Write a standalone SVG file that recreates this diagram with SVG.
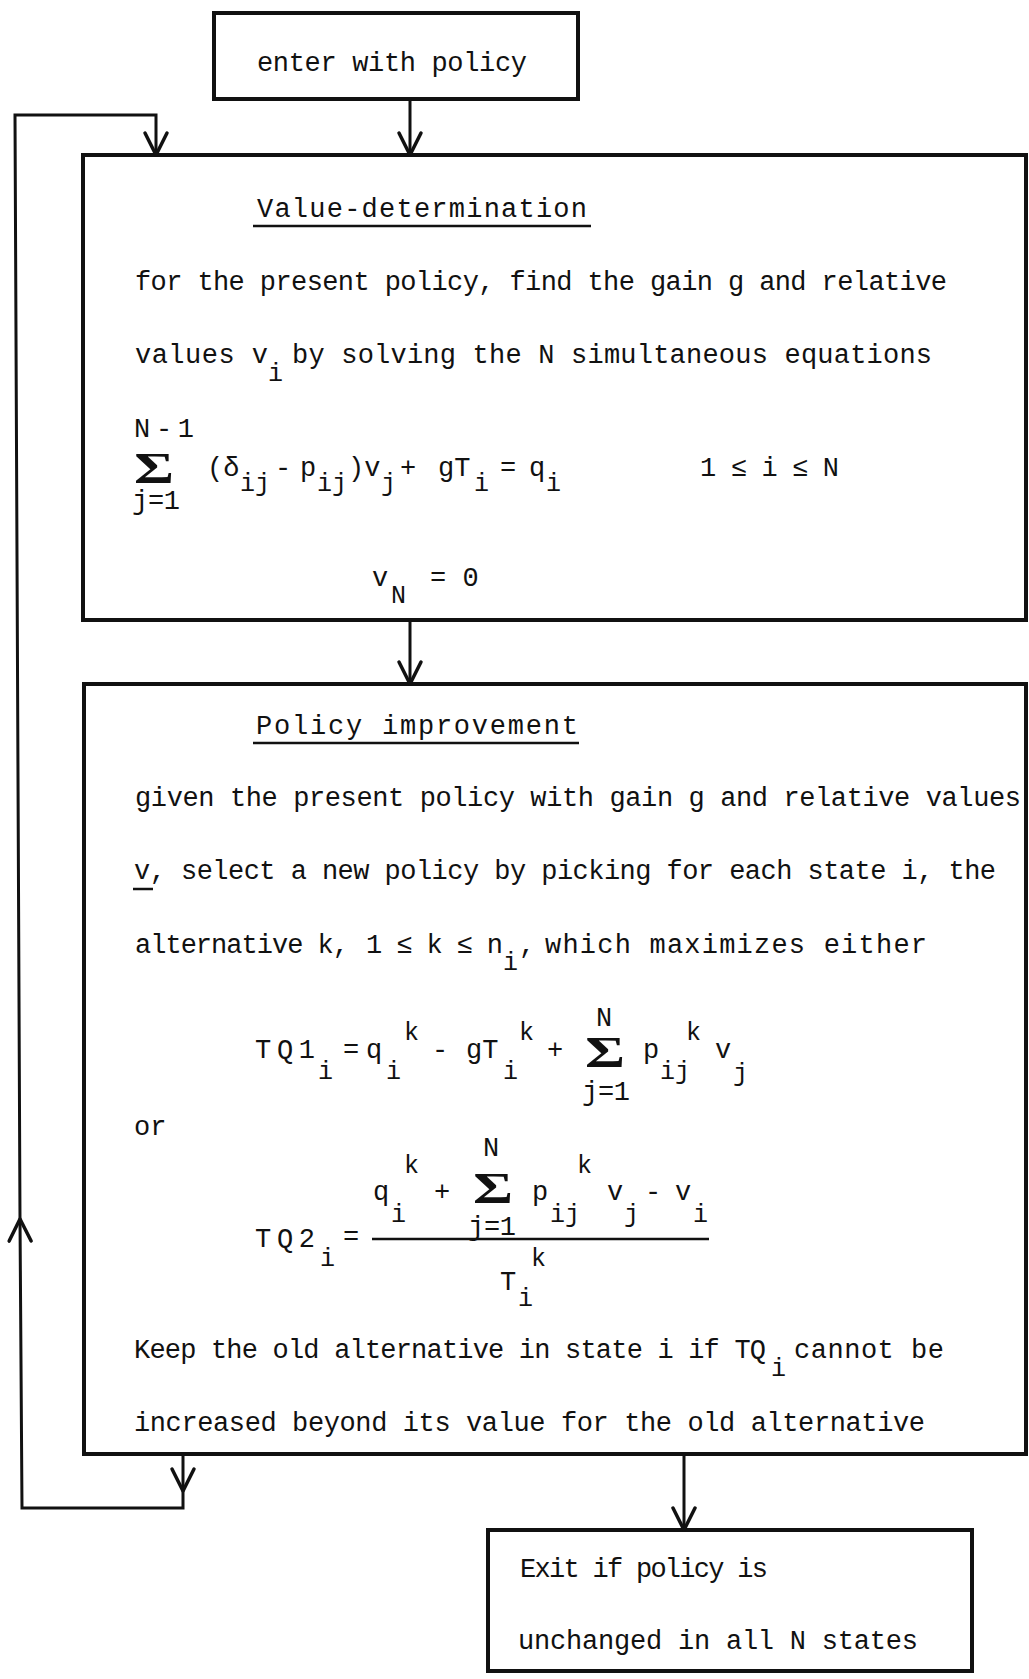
<svg xmlns="http://www.w3.org/2000/svg" width="1029" height="1679" viewBox="0 0 1029 1679">
<defs>
<style>
.t{font-family:"Liberation Mono","DejaVu Sans Mono",monospace;font-size:27px;fill:#111;}
.s{font-family:"Liberation Mono","DejaVu Sans Mono",monospace;font-size:25px;fill:#111;}
.sg{font-family:"Liberation Serif","DejaVu Serif",serif;font-size:44px;font-weight:bold;fill:#111;}
.box{fill:none;stroke:#111;stroke-width:4;}
.ln{fill:none;stroke:#111;stroke-width:3;}
.ul{stroke:#111;stroke-width:2.5;}
</style>
<marker id="arr" viewBox="0 0 30 30" refX="27" refY="15" markerWidth="30" markerHeight="30" markerUnits="userSpaceOnUse" orient="auto">
<path d="M5,4 L27,15 L5,26" fill="none" stroke="#111" stroke-width="3.5" stroke-linejoin="round" stroke-linecap="round"/>
</marker>
</defs>
<rect x="0" y="0" width="1029" height="1679" fill="#fff"/>

<g id="enter">
<rect class="box" x="214" y="13" width="364" height="86"/>
<text class="t" x="257" y="71" textLength="270">enter with policy</text>
</g>

<g id="value-determination">
<rect class="box" x="83" y="155" width="943" height="465"/>
<text class="t" x="257" y="217" textLength="330">Value-determination</text>
<line class="ul" x1="253" y1="226" x2="591" y2="226"/>
<text class="t" x="135" y="290" textLength="812">for the present policy, find the gain g and relative</text>
<text class="t" x="135" y="363" textLength="133">values v</text>
<text class="s" x="268" y="381">i</text>
<text class="t" x="292" y="363" textLength="640">by solving the N simultaneous equations</text>
<text class="t" x="134" y="437" textLength="60">N-1</text>
<text class="sg" x="134" y="483" textLength="40" lengthAdjust="spacingAndGlyphs">Σ</text>
<text class="t" x="132" y="509" textLength="48">j=1</text>
<text class="t" x="207" y="476">(δ</text>
<text class="s" x="240" y="491">ij</text>
<text class="t" x="275" y="476">-</text>
<text class="t" x="300" y="476">p</text>
<text class="s" x="317" y="491">ij</text>
<text class="t" x="348" y="476">)v</text>
<text class="s" x="381" y="491">j</text>
<text class="t" x="400" y="476">+</text>
<text class="t" x="438" y="476">gT</text>
<text class="s" x="474" y="491">i</text>
<text class="t" x="500" y="476">=</text>
<text class="t" x="529" y="476">q</text>
<text class="s" x="546" y="491">i</text>
<text class="t" x="700" y="476" textLength="139">1 ≤ i ≤ N</text>
<text class="t" x="372" y="586">v</text>
<text class="s" x="391" y="603">N</text>
<text class="t" x="430" y="586">= 0</text>
</g>

<g id="policy-improvement">
<rect class="box" x="84" y="684" width="942" height="770"/>
<text class="t" x="256" y="734" textLength="322">Policy improvement</text>
<line class="ul" x1="253" y1="743" x2="579" y2="743"/>
<text class="t" x="135" y="806" textLength="886">given the present policy with gain g and relative values</text>
<text class="t" x="134" y="879" textLength="862">v, select a new policy by picking for each state i, the</text>
<line class="ul" x1="133" y1="889" x2="153" y2="889"/>
<text class="t" x="135" y="953" textLength="214">alternative k,</text>
<text class="t" x="366" y="953" textLength="137">1 ≤ k ≤ n</text>
<text class="s" x="503" y="970">i</text>
<text class="t" x="519" y="953">,</text>
<text class="t" x="545" y="953" textLength="382">which maximizes either</text>

<text class="t" x="255" y="1058" textLength="60">TQ1</text>
<text class="s" x="318" y="1079">i</text>
<text class="t" x="343" y="1058">=</text>
<text class="t" x="366" y="1058">q</text>
<text class="s" x="386" y="1079">i</text>
<text class="s" x="404" y="1040">k</text>
<text class="t" x="432" y="1058">-</text>
<text class="t" x="466" y="1058">gT</text>
<text class="s" x="503" y="1079">i</text>
<text class="s" x="519" y="1040">k</text>
<text class="t" x="547" y="1058">+</text>
<text class="sg" x="585" y="1067" textLength="40" lengthAdjust="spacingAndGlyphs">Σ</text>
<text class="t" x="596" y="1026">N</text>
<text class="t" x="582" y="1100" textLength="48">j=1</text>
<text class="t" x="643" y="1058">p</text>
<text class="s" x="660" y="1079">ij</text>
<text class="s" x="686" y="1040">k</text>
<text class="t" x="715" y="1058">v</text>
<text class="s" x="733" y="1081">j</text>

<text class="t" x="134" y="1135">or</text>

<text class="t" x="373" y="1200">q</text>
<text class="s" x="391" y="1222">i</text>
<text class="s" x="404" y="1173">k</text>
<text class="t" x="434" y="1200">+</text>
<text class="sg" x="473" y="1203" textLength="40" lengthAdjust="spacingAndGlyphs">Σ</text>
<text class="t" x="483" y="1156">N</text>
<text class="t" x="468" y="1235" textLength="48">j=1</text>
<text class="t" x="532" y="1200">p</text>
<text class="s" x="550" y="1222">ij</text>
<text class="s" x="577" y="1173">k</text>
<text class="t" x="607" y="1200">v</text>
<text class="s" x="624" y="1222">j</text>
<text class="t" x="645" y="1200">-</text>
<text class="t" x="675" y="1200">v</text>
<text class="s" x="693" y="1222">i</text>
<line class="ul" x1="372" y1="1239" x2="709" y2="1239"/>
<text class="t" x="255" y="1247" textLength="60">TQ2</text>
<text class="s" x="320" y="1266">i</text>
<text class="t" x="343" y="1245">=</text>
<text class="t" x="500" y="1290">T</text>
<text class="s" x="518" y="1306">i</text>
<text class="s" x="531" y="1266">k</text>

<text class="t" x="134" y="1358" textLength="632">Keep the old alternative in state i if TQ</text>
<text class="s" x="771" y="1376">i</text>
<text class="t" x="794" y="1358" textLength="150">cannot be</text>
<text class="t" x="134" y="1431" textLength="791">increased beyond its value for the old alternative</text>
</g>

<g id="exit">
<rect class="box" x="488" y="1530" width="484" height="141"/>
<text class="t" x="520" y="1577" textLength="248">Exit if policy is</text>
<text class="t" x="518" y="1649" textLength="400">unchanged in all N states</text>
</g>

<g id="connectors">
<path class="ln" d="M410,99 V155" marker-end="url(#arr)"/>
<path class="ln" d="M410,620 V684" marker-end="url(#arr)"/>
<path class="ln" d="M684,1454 V1530" marker-end="url(#arr)"/>
<path class="ln" d="M183,1454 V1491" marker-end="url(#arr)"/>
<path class="ln" d="M183,1491 V1508 H22 L20,1219" marker-end="url(#arr)"/>
<path class="ln" d="M20,1219 L15,115 H156 V155" marker-end="url(#arr)"/>
</g>
</svg>
